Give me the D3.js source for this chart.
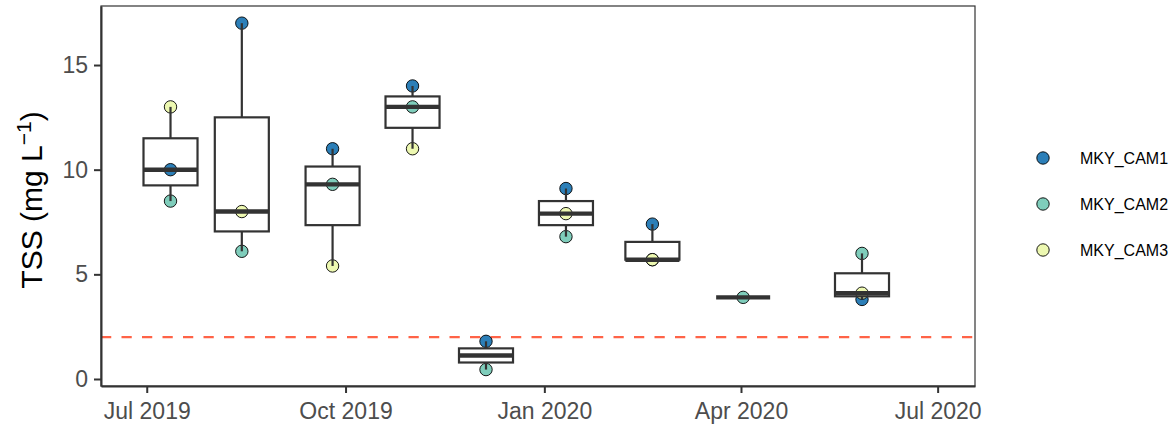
<!DOCTYPE html>
<html>
<head>
<meta charset="utf-8">
<script src="https://cdn.jsdelivr.net/npm/d3@7"></script>
<style>
  html, body { margin: 0; padding: 0; background: #fff; }
  svg { display: block; font-family: "Liberation Sans", Arial, sans-serif; }
</style>
</head>
<body>
<svg id="chart" width="1175" height="427"></svg>
<script>
// Sampling dates (one box per survey)
const sampleDates = ["2019-07-12", "2019-08-14", "2019-09-25", "2019-11-01", "2019-12-05",
                     "2020-01-11", "2020-02-20", "2020-04-02", "2020-05-27"];
// TSS (mg/L) per site; null = no sample
const cam1 = [10, 17, 11, 14, 1.8, 9.1, 7.4, null, 3.8];
const cam2 = [8.5, 6.1, 9.3, 13, 0.45, 6.8, 5.7, 3.9, 6.0];
const cam3 = [13, 8, 5.4, 11, null, 7.9, 5.7, null, 4.1];
const siteNames = ["MKY_CAM1", "MKY_CAM2", "MKY_CAM3"];
const siteColors = ["#2C7FB8", "#7FCDBB", "#EDF8B1"];
// Guideline value
const threshold = [2];
const yTicks = [0, 5, 10, 15];
const xTicks = ["2019-07-01", "2019-10-01", "2020-01-01", "2020-04-01", "2020-07-01"];

const parse = d3.utcParse("%Y-%m-%d");
const svg = d3.select("#chart");
const panel = { left: 101, right: 975, top: 6, bottom: 386 };

const x = d3.scaleUtc()
  .domain([new Date(Date.UTC(2019, 5, 9, 20)), new Date(Date.UTC(2020, 6, 18, 7))])
  .range([panel.left, panel.right]);
const y = d3.scaleLinear().domain([-0.335, 17.82]).range([panel.bottom, panel.top]);

const boxDays = 25;
const dayMs = 864e5;

const series = [cam1, cam2, cam3];
const points = [];
series.forEach((vals, s) => vals.forEach((v, i) => {
  if (v != null) points.push({ date: parse(sampleDates[i]), value: v, site: s });
}));

const boxes = sampleDates.map((ds, i) => {
  const vals = series.map(a => a[i]).filter(v => v != null).sort(d3.ascending);
  const q1 = d3.quantile(vals, 0.25), med = d3.quantile(vals, 0.5), q3 = d3.quantile(vals, 0.75);
  const iqr = q3 - q1;
  const lo = d3.min(vals.filter(v => v >= q1 - 1.5 * iqr));
  const hi = d3.max(vals.filter(v => v <= q3 + 1.5 * iqr));
  const d = parse(ds);
  return { d, q1, med, q3, lo, hi,
           x0: new Date(+d - boxDays / 2 * dayMs), x1: new Date(+d + boxDays / 2 * dayMs) };
});

const plotG = svg.append("g");

// guideline
plotG.selectAll("line.thr").data(threshold).join("line")
  .attr("class", "thr")
  .attr("x1", panel.left).attr("x2", panel.right)
  .attr("y1", d => y(d)).attr("y2", d => y(d))
  .attr("stroke", "#FF6347").attr("stroke-width", 2.2)
  .attr("stroke-dasharray", "10.25,10.25");

// sample points
plotG.selectAll("circle.pt").data(points).join("circle")
  .attr("class", "pt")
  .attr("cx", d => x(d.date)).attr("cy", d => y(d.value)).attr("r", 6.2)
  .attr("fill", d => siteColors[d.site]).attr("stroke", "#000").attr("stroke-width", 0.9);

// boxplots
const bg = plotG.selectAll("g.box").data(boxes).join("g").attr("class", "box")
  .attr("stroke", "#333333").attr("fill", "none");
bg.append("line")
  .attr("x1", d => x(d.d)).attr("x2", d => x(d.d))
  .attr("y1", d => y(d.q3)).attr("y2", d => y(d.hi)).attr("stroke-width", 2.2);
bg.append("line")
  .attr("x1", d => x(d.d)).attr("x2", d => x(d.d))
  .attr("y1", d => y(d.q1)).attr("y2", d => y(d.lo)).attr("stroke-width", 2.2);
bg.append("rect")
  .attr("x", d => x(d.x0)).attr("width", d => x(d.x1) - x(d.x0))
  .attr("y", d => y(d.q3)).attr("height", d => y(d.q1) - y(d.q3))
  .attr("stroke-width", 2.2);
bg.append("line")
  .attr("x1", d => x(d.x0)).attr("x2", d => x(d.x1))
  .attr("y1", d => y(d.med)).attr("y2", d => y(d.med)).attr("stroke-width", 4.4);

// panel border
svg.append("rect")
  .attr("x", panel.left).attr("y", panel.top)
  .attr("width", panel.right - panel.left).attr("height", panel.bottom - panel.top)
  .attr("fill", "none").attr("stroke", "#333333").attr("stroke-width", 1.2);

// axes
const xAxis = svg.append("g").attr("transform", `translate(0,${panel.bottom})`)
  .call(d3.axisBottom(x).tickValues(xTicks.map(parse)).tickFormat(d3.utcFormat("%b %Y"))
    .tickSize(7).tickSizeOuter(0).tickPadding(10));
const yAxis = svg.append("g").attr("transform", `translate(${panel.left},0)`)
  .call(d3.axisLeft(y).tickValues(yTicks).tickSize(7).tickSizeOuter(0).tickPadding(6));
[xAxis, yAxis].forEach(g => {
  g.select(".domain").attr("stroke", "#333333").attr("stroke-width", 2);
  g.selectAll(".tick line").attr("stroke", "#333333").attr("stroke-width", 2);
  g.selectAll(".tick text").attr("fill", "#4D4D4D").attr("font-size", 23)
    .attr("font-family", "'Liberation Sans', Arial, sans-serif");
});

// y title
const yt = svg.append("text")
  .attr("transform", `translate(42,${(panel.top + panel.bottom) / 2 + 4}) rotate(-90)`)
  .attr("text-anchor", "middle").attr("font-size", 30).attr("fill", "#000");
yt.append("tspan").text("TSS (mg L");
yt.append("tspan").attr("font-size", 21).attr("dy", -11).text("\u22121");
yt.append("tspan").attr("dy", 11).text(")");

// legend
const lg = svg.append("g").selectAll("g").data(siteNames).join("g")
  .attr("transform", (d, i) => `translate(1043,${158 + i * 46})`);
lg.append("circle").attr("r", 6.2)
  .attr("fill", (d, i) => siteColors[i]).attr("stroke", "#000").attr("stroke-width", 0.9);
lg.append("text").attr("x", 37).attr("dy", "0.35em")
  .attr("font-size", 16).attr("fill", "#000").text(d => d);
</script>
</body>
</html>
